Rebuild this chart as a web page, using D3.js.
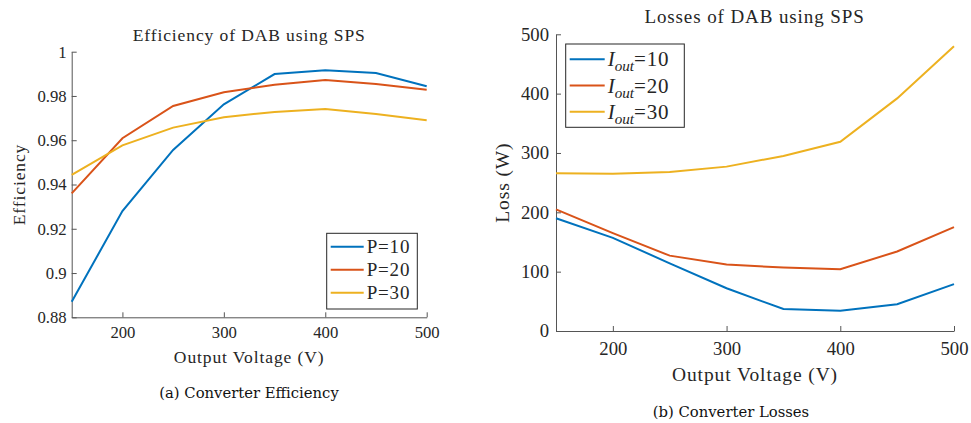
<!DOCTYPE html>
<html>
<head>
<meta charset="utf-8">
<script src="https://cdn.jsdelivr.net/npm/d3@7"></script>
<style>
  body { margin: 0; background: #fff; }
  .axis path, .axis line { stroke: #555; }
</style>
</head>
<body>
<svg id="chart" width="971" height="423"></svg>
<script>
// data
const voltage = [150, 200, 250, 300, 350, 400, 450, 500];

const effP10 = [0.887, 0.928, 0.9556, 0.9762, 0.9899, 0.9916, 0.9904, 0.9844];
const effP20 = [0.936, 0.9609, 0.9755, 0.9817, 0.9851, 0.9872, 0.9854, 0.9828];
const effP30 = [0.9443, 0.9577, 0.9657, 0.9704, 0.9728, 0.9741, 0.9719, 0.969];

const lossI10 = [190, 157, 114, 72, 37, 34, 45, 79];
const lossI20 = [205, 165, 127, 112, 107, 104, 134, 175];
const lossI30 = [266, 265, 268, 277, 295, 319, 392, 480];

const voltTicks = [200, 300, 400, 500];
const effTicks = [0.88, 0.9, 0.92, 0.94, 0.96, 0.98, 1];
const lossTicks = [0, 100, 200, 300, 400, 500];

const effNames = ["P=10", "P=20", "P=30"];
const lossNames = ["10", "20", "30"];
const colors = ["#0072BD", "#D95319", "#EDB120"];

const SERIF = "'Liberation Serif', 'Times New Roman', Times, serif";
const svg = d3.select("#chart");

// one panel = one matlab axes
function panel(o) {
  const g = svg.append("g");

  const x = d3.scaleLinear().domain([150, 500]).range([o.left, o.right]);
  const y = d3.scaleLinear().domain(o.ydom).range([o.bottom, o.top]);

  g.append("g").attr("class", "axis")
    .attr("transform", `translate(0,${o.bottom})`)
    .call(d3.axisBottom(x).tickValues(voltTicks).tickSizeInner(-5).tickSizeOuter(0).tickPadding(o.xpad))
    .call(a => a.selectAll("text").style("font-size", o.fs + "px").style("font-family", SERIF).attr("fill", "#262626"));

  g.append("g").attr("class", "axis")
    .attr("transform", `translate(${o.left},0)`)
    .call(d3.axisLeft(y).tickValues(o.yticks).tickFormat(o.yfmt).tickSizeInner(-5).tickSizeOuter(0).tickPadding(o.ypad))
    .call(a => a.selectAll("text").style("font-size", o.fs + "px").style("font-family", SERIF).attr("fill", "#262626"));

  const line = d3.line().x((d, i) => x(voltage[i])).y(d => y(d));
  g.selectAll("path.series")
    .data(o.series)
    .join("path")
    .attr("class", "series")
    .attr("d", line)
    .attr("fill", "none")
    .attr("stroke", (d, i) => colors[i])
    .attr("stroke-width", 2);

  const txt = (sel, size) => sel.style("font-family", SERIF).style("font-size", size + "px")
    .style("letter-spacing", "0.9px").attr("fill", "#262626");

  const mid = (o.left + o.right) / 2;
  g.append("text").attr("x", mid + o.titleDx).attr("y", o.titleY)
    .attr("text-anchor", "middle").call(txt, o.tfs).text(o.title);

  g.append("text").attr("x", mid).attr("y", o.xlabY)
    .attr("text-anchor", "middle").call(txt, o.lfs).text("Output Voltage (V)");

  g.append("text")
    .attr("transform", `translate(${o.ylabX},${(o.top + o.bottom) / 2}) rotate(-90)`)
    .attr("text-anchor", "middle").call(txt, o.lfs).text(o.ylabel);

  // legend
  const lg = g.append("g").attr("transform", `translate(${o.leg.x},${o.leg.y})`);
  lg.append("rect").attr("width", o.leg.w).attr("height", o.leg.h)
    .attr("fill", "#fff").attr("stroke", "#262626").attr("stroke-width", 1);
  o.names.forEach((n, i) => {
    const cy = o.leg.first + i * o.leg.step;
    lg.append("line").attr("x1", 4).attr("x2", 4 + o.leg.len)
      .attr("y1", cy).attr("y2", cy)
      .attr("stroke", colors[i]).attr("stroke-width", 2);
    const t = lg.append("text").attr("x", 7 + o.leg.len).attr("y", cy + o.leg.fs * 0.34)
      .call(txt, o.leg.fs).style("letter-spacing", null);
    o.label(t, n);
  });
}

panel({
  left: 71.7, right: 426.7, top: 51.7, bottom: 317.3,
  ydom: [0.88, 1], yticks: effTicks, yfmt: d => String(+d.toFixed(2)),
  series: [effP10, effP20, effP30],
  fs: 16.7, tfs: 17.5, lfs: 17.5, xpad: 9, ypad: 5,
  title: "Efficiency of DAB using SPS", titleY: 41, titleDx: 0,
  xlabY: 363, ylabel: "Efficiency", ylabX: 25,
  names: effNames,
  label: (t, n) => t.text(n).style("letter-spacing", "0.8px"),
  leg: { x: 326.7, y: 233.3, w: 90.6, h: 75.7, first: 13.4, step: 23, len: 33, fs: 19 }
});

panel({
  left: 556, right: 954, top: 34.3, bottom: 331,
  ydom: [0, 500], yticks: lossTicks, yfmt: d3.format("d"),
  series: [lossI10, lossI20, lossI30],
  fs: 18.7, tfs: 19, lfs: 19.5, xpad: 10.5, ypad: 7,
  title: "Losses of DAB using SPS", titleY: 23, titleDx: -0.5,
  xlabY: 381, ylabel: "Loss (W)", ylabX: 509,
  names: lossNames,
  label: (t, n) => {
    t.append("tspan").style("font-style", "italic").text("I");
    t.append("tspan").style("font-style", "italic").style("font-size", "0.72em")
      .attr("dy", 5).text("out");
    t.append("tspan").attr("dy", -5).style("letter-spacing", "0.8px").text("=" + n);
  },
  leg: { x: 565.7, y: 44, w: 118.6, h: 83.3, first: 15.3, step: 26.2, len: 35, fs: 21 }
});

// captions under the subfigures
const cap = (x, y, s) => svg.append("text").attr("x", x).attr("y", y)
  .attr("text-anchor", "middle").style("font-family", "'DejaVu Serif', serif")
  .style("font-size", "14.8px").attr("fill", "#111").text(s);
cap(249, 398, "(a) Converter Efficiency");
cap(731, 417, "(b) Converter Losses");
</script>
</body>
</html>
